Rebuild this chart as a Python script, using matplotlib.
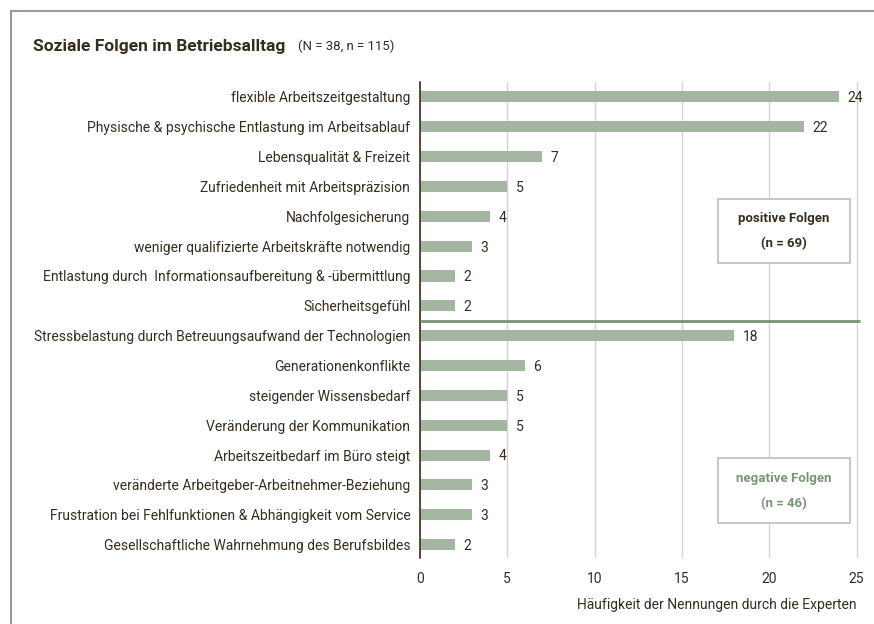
import matplotlib
matplotlib.use("Agg")
import matplotlib.pyplot as plt
from matplotlib.patches import Rectangle
from matplotlib.lines import Line2D

categories = [
    "flexible Arbeitszeitgestaltung",
    "Physische & psychische Entlastung im Arbeitsablauf",
    "Lebensqualität & Freizeit",
    "Zufriedenheit mit Arbeitspräzision",
    "Nachfolgesicherung",
    "weniger qualifizierte Arbeitskräfte notwendig",
    "Entlastung durch  Informationsaufbereitung & -übermittlung",
    "Sicherheitsgefühl",
    "Stressbelastung durch Betreuungsaufwand der Technologien",
    "Generationenkonflikte",
    "steigender Wissensbedarf",
    "Veränderung der Kommunikation",
    "Arbeitszeitbedarf im Büro steigt",
    "veränderte Arbeitgeber-Arbeitnehmer-Beziehung",
    "Frustration bei Fehlfunktionen & Abhängigkeit vom Service",
    "Gesellschaftliche Wahrnehmung des Berufsbildes",
]
values = [24, 22, 7, 5, 4, 3, 2, 2, 18, 6, 5, 5, 4, 3, 3, 2]
xticks = [0, 5, 10, 15, 20, 25]

title = "Soziale Folgen im Betriebsalltag"
subtitle = "(N = 38, n = 115)"
xlabel = "Häufigkeit der Nennungen durch die Experten"
pos_box = ["positive Folgen", "(n = 69)"]
neg_box = ["negative Folgen", "(n = 46)"]

plt.rcParams['font.family'] = ['Roboto', 'DejaVu Sans']
TXT = "#352d20"
BAR = "#a4b6a2"
GREEN = "#7a9477"

fig = plt.figure(figsize=(8.74, 6.24), dpi=100)
W, H = 874, 624
ax = fig.add_axes([420 / W, 1 - 558 / H, (860 - 420) / W, (558 - 82) / H])

y = list(range(len(categories)))
ax.barh(y, values, height=0.37, color=BAR, zorder=3)
for yi, v in zip(y, values):
    ax.annotate(str(v), (v, yi), xytext=(6, -1), textcoords="offset points",
                ha="left", va="center", fontsize=10, color=TXT)

ax.set_xlim(0, 25.2)
ax.set_ylim(15.45, -0.5)
ax.set_yticks(y)
ax.set_yticklabels(categories, fontsize=10, color=TXT)
ax.set_xticks(xticks)
ax.set_xticklabels([str(t) for t in xticks], fontsize=10, color=TXT)
ax.tick_params(axis="both", length=0)
ax.tick_params(axis="y", pad=7)
ax.tick_params(axis="x", pad=10)
ax.grid(axis="x", color="#d3d3d3", lw=1, zorder=0)
for s in ["top", "right", "bottom"]:
    ax.spines[s].set_visible(False)
ax.spines["left"].set_color("#3b3020")
ax.spines["left"].set_linewidth(1.2)
ax.spines["left"].set_zorder(4)

ax.set_xlabel(xlabel, fontsize=10, color=TXT, ha="right", labelpad=6)
ax.xaxis.set_label_coords(1.0 - 3 / 440, -0.085)

# separator between positive and negative
ax.plot([0, 25.2], [7.5, 7.5], color=GREEN, lw=2.0, zorder=5, solid_capstyle="butt", clip_on=False)

def box(cy, lines, color):
    x0, x1 = 17.05, 24.6
    h = 2.15
    ax.add_patch(Rectangle((x0, cy - h / 2), x1 - x0, h, facecolor="white",
                           edgecolor="#bdbdbd", lw=1.2, zorder=6))
    cx = (x0 + x1) / 2
    ax.text(cx, cy - 0.4, lines[0], ha="center", va="center", fontsize=9.5,
            fontweight="bold", color=color, zorder=7)
    ax.text(cx, cy + 0.42, lines[1], ha="center", va="center", fontsize=9.5,
            fontweight="bold", color=color, zorder=7)

box(4.49, pos_box, TXT)
box(13.19, neg_box, GREEN)

# outer frame (cut at right and bottom)
fig.add_artist(Line2D([10.5 / W, 10.5 / W], [0, 1 - 10.5 / H], color="#8fa08f", lw=1.5))
fig.add_artist(Line2D([10.5 / W, 1], [1 - 10.5 / H, 1 - 10.5 / H], color="#8fa08f", lw=1.5))

fig.text(33 / W, 1 - 46 / H, title, fontsize=12.5, fontweight="bold", color=TXT, va="center")
fig.text(298 / W, 1 - 46 / H, subtitle, fontsize=9.5, color=TXT, va="center")

fig.savefig("out.png", dpi=100)
